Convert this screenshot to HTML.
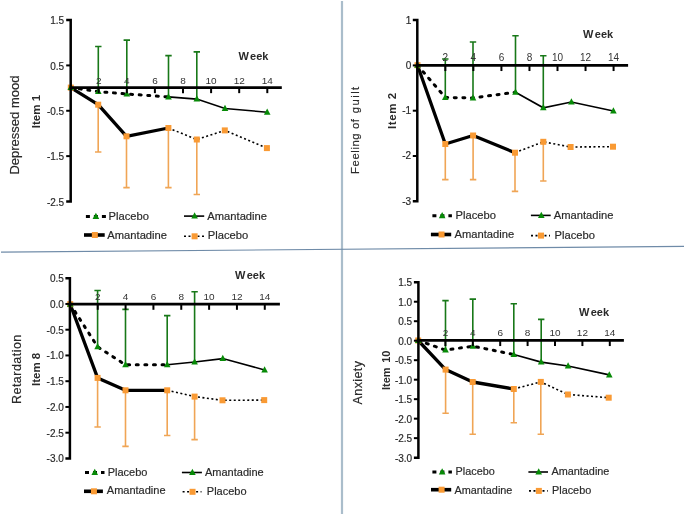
<!DOCTYPE html>
<html><head><meta charset="utf-8"><style>
html,body{margin:0;padding:0;background:#fff;}
svg{display:block;filter:blur(0.3px);}
text{font-family:"Liberation Sans", sans-serif;fill:#2a2a2a;}
.tl,.lg,.ttl{stroke:#2a2a2a;stroke-width:0.18px;}
.xl{stroke:none;fill:#333;}
.tl{font-size:10px;}
.wk{font-size:11px;font-weight:bold;}
.ttl{font-size:12.5px;}
.itm{font-size:11.5px;font-weight:bold;}
.lg{font-size:11.2px;}
</style></head><body>
<svg width="685" height="516" viewBox="0 0 685 516">
<rect width="685" height="516" fill="#fff"/>
<path d="M98.3 91.6V46.5M95.1 46.5H101.5" stroke="#187818" stroke-width="1.6" fill="none"/><path d="M126.8 94V40.1M123.6 40.1H130" stroke="#187818" stroke-width="1.6" fill="none"/><path d="M168.5 96.9V55.6M165.3 55.6H171.7" stroke="#187818" stroke-width="1.6" fill="none"/><path d="M196.8 99.1V51.9M193.6 51.9H200" stroke="#187818" stroke-width="1.6" fill="none"/><path d="M98.2 104.7V152M95 152H101.4" stroke="#f0a555" stroke-width="1.6" fill="none"/><path d="M126.5 136.3V187.6M123.3 187.6H129.7" stroke="#f0a555" stroke-width="1.6" fill="none"/><path d="M168.4 128V187.6M165.2 187.6H171.6" stroke="#f0a555" stroke-width="1.6" fill="none"/><path d="M196.8 139.5V194.5M193.6 194.5H200" stroke="#f0a555" stroke-width="1.6" fill="none"/><polyline points="70.8,87.6 98.3,91.6 126.8,94 168.5,96.9" fill="none" stroke="#000" stroke-width="3" stroke-linecap="round" stroke-dasharray="2 6.6"/><polyline points="168.5,96.9 196.8,99.1 225,108.5 267.2,112.2" fill="none" stroke="#000" stroke-width="1.6"/><polyline points="70.8,87.6 98.2,104.7 126.5,136.3 168.4,128" fill="none" stroke="#000" stroke-width="3.3" stroke-linejoin="round"/><polyline points="168.4,128 196.8,139.5 224.8,130.4 266.9,148.1" fill="none" stroke="#000" stroke-width="1.6" stroke-dasharray="2 2.5"/><rect x="67.8" y="84.6" width="6" height="6" fill="#f99a34"/><rect x="95.2" y="101.7" width="6" height="6" fill="#f99a34"/><rect x="123.5" y="133.3" width="6" height="6" fill="#f99a34"/><rect x="165.4" y="125" width="6" height="6" fill="#f99a34"/><rect x="193.8" y="136.5" width="6" height="6" fill="#f99a34"/><rect x="221.8" y="127.4" width="6" height="6" fill="#f99a34"/><rect x="263.9" y="145.1" width="6" height="6" fill="#f99a34"/><path d="M70.8 83.84L74.1 90.11L67.5 90.11Z" fill="#078a07"/><path d="M98.3 87.84L101.6 94.11L95 94.11Z" fill="#078a07"/><path d="M126.8 90.24L130.1 96.51L123.5 96.51Z" fill="#078a07"/><path d="M168.5 93.14L171.8 99.41L165.2 99.41Z" fill="#078a07"/><path d="M196.8 95.34L200.1 101.61L193.5 101.61Z" fill="#078a07"/><path d="M225 104.74L228.3 111.01L221.7 111.01Z" fill="#078a07"/><path d="M267.2 108.44L270.5 114.71L263.9 114.71Z" fill="#078a07"/><path d="M66.2 20.07H70.7V201.47H66.2" fill="none" stroke="#000" stroke-width="2.5"/><path d="M66.2 65.42H70.7" stroke="#000" stroke-width="2"/><path d="M66.2 110.77H70.7" stroke="#000" stroke-width="2"/><path d="M66.2 156.12H70.7" stroke="#000" stroke-width="2"/><text x="64.2" y="24.37" text-anchor="end" class="tl">1.5</text><text x="64.2" y="69.72" text-anchor="end" class="tl">0.5</text><text x="64.2" y="115.07" text-anchor="end" class="tl">-0.5</text><text x="64.2" y="160.43" text-anchor="end" class="tl">-1.5</text><text x="64.2" y="205.78" text-anchor="end" class="tl">-2.5</text><path d="M70.7 87.55H281.8" stroke="#000" stroke-width="2.7"/><path d="M98.7 87.55V93.15" stroke="#000" stroke-width="2"/><text transform="translate(98.7 84.05) scale(1 0.96)" text-anchor="middle" class="tl xl">2</text><path d="M126.8 87.55V93.15" stroke="#000" stroke-width="2"/><text transform="translate(126.8 84.05) scale(1 0.96)" text-anchor="middle" class="tl xl">4</text><path d="M154.9 87.55V93.15" stroke="#000" stroke-width="2"/><text transform="translate(154.9 84.05) scale(1 0.96)" text-anchor="middle" class="tl xl">6</text><path d="M183 87.55V93.15" stroke="#000" stroke-width="2"/><text transform="translate(183 84.05) scale(1 0.96)" text-anchor="middle" class="tl xl">8</text><path d="M211.1 87.55V93.15" stroke="#000" stroke-width="2"/><text transform="translate(211.1 84.05) scale(1 0.96)" text-anchor="middle" class="tl xl">10</text><path d="M239.2 87.55V93.15" stroke="#000" stroke-width="2"/><text transform="translate(239.2 84.05) scale(1 0.96)" text-anchor="middle" class="tl xl">12</text><path d="M267.3 87.55V93.15" stroke="#000" stroke-width="2"/><text transform="translate(267.3 84.05) scale(1 0.96)" text-anchor="middle" class="tl xl">14</text><text x="238.4" y="59.5" class="wk">W<tspan dx="1.5">eek</tspan></text><text transform="translate(19.3 174.6) rotate(-90)" class="ttl" style="font-size:13px">Depressed mood</text><text transform="translate(39.5 128.2) rotate(-90)" class="itm" style="">Item 1</text><path d="M84.9 216.4H105.9" stroke="#000" stroke-width="3" stroke-dasharray="4 4" stroke-dashoffset="-1"/><path d="M95.9 212.64L99.2 218.91L92.6 218.91Z" fill="#078a07"/><text x="108.5" y="219.6" class="lg" style="font-size:11.2px">Placebo</text><path d="M84 235H104.7" stroke="#000" stroke-width="3.6"/><rect x="91.85" y="232" width="6" height="6" fill="#f99a34"/><text x="107.3" y="238.5" class="lg" style="font-size:11.2px">Amantadine</text><path d="M184 216.1H204.2" stroke="#000" stroke-width="1.6"/><path d="M194.6 212.34L197.9 218.61L191.3 218.61Z" fill="#078a07"/><text x="207.3" y="219.6" class="lg" style="font-size:11.2px">Amantadine</text><path d="M184 236.3H204.2" stroke="#000" stroke-width="1.6" stroke-dasharray="2 2.5"/><rect x="191.6" y="233.3" width="6" height="6" fill="#f99a34"/><text x="207.8" y="239" class="lg" style="font-size:11.2px">Placebo</text><path d="M445.3 97.5V59M442.1 59H448.5" stroke="#187818" stroke-width="1.6" fill="none"/><path d="M473 97.9V42M469.8 42H476.2" stroke="#187818" stroke-width="1.6" fill="none"/><path d="M515.5 92.2V35.7M512.3 35.7H518.7" stroke="#187818" stroke-width="1.6" fill="none"/><path d="M543.3 107.8V55.8M540.1 55.8H546.5" stroke="#187818" stroke-width="1.6" fill="none"/><path d="M445.3 144V179.6M442.1 179.6H448.5" stroke="#f0a555" stroke-width="1.6" fill="none"/><path d="M473.1 135.5V179.6M469.9 179.6H476.3" stroke="#f0a555" stroke-width="1.6" fill="none"/><path d="M515 152.7V191.4M511.8 191.4H518.2" stroke="#f0a555" stroke-width="1.6" fill="none"/><path d="M543.3 141.8V181M540.1 181H546.5" stroke="#f0a555" stroke-width="1.6" fill="none"/><polyline points="417.5,65.2 445.3,97.5 473,97.9 515.5,92.2" fill="none" stroke="#000" stroke-width="3" stroke-linecap="round" stroke-dasharray="2 6.6"/><polyline points="515.5,92.2 543.3,107.8 571.4,102 613.4,111" fill="none" stroke="#000" stroke-width="1.6"/><polyline points="417.5,65.2 445.3,144 473.1,135.5 515,152.7" fill="none" stroke="#000" stroke-width="3.3" stroke-linejoin="round"/><polyline points="515,152.7 543.3,141.8 570.6,147 613,146.7" fill="none" stroke="#000" stroke-width="1.6" stroke-dasharray="2 2.5"/><rect x="414.5" y="62.2" width="6" height="6" fill="#f99a34"/><rect x="442.3" y="141" width="6" height="6" fill="#f99a34"/><rect x="470.1" y="132.5" width="6" height="6" fill="#f99a34"/><rect x="512" y="149.7" width="6" height="6" fill="#f99a34"/><rect x="540.3" y="138.8" width="6" height="6" fill="#f99a34"/><rect x="567.6" y="144" width="6" height="6" fill="#f99a34"/><rect x="610" y="143.7" width="6" height="6" fill="#f99a34"/><path d="M417.5 61.44L420.8 67.71L414.2 67.71Z" fill="#078a07"/><path d="M445.3 93.74L448.6 100.01L442 100.01Z" fill="#078a07"/><path d="M473 94.14L476.3 100.41L469.7 100.41Z" fill="#078a07"/><path d="M515.5 88.44L518.8 94.71L512.2 94.71Z" fill="#078a07"/><path d="M543.3 104.04L546.6 110.31L540 110.31Z" fill="#078a07"/><path d="M571.4 98.24L574.7 104.51L568.1 104.51Z" fill="#078a07"/><path d="M613.4 107.24L616.7 113.51L610.1 113.51Z" fill="#078a07"/><path d="M412.8 20.1H417.3V201.3H412.8" fill="none" stroke="#000" stroke-width="2.5"/><path d="M412.8 65.4H417.3" stroke="#000" stroke-width="2"/><path d="M412.8 110.7H417.3" stroke="#000" stroke-width="2"/><path d="M412.8 156H417.3" stroke="#000" stroke-width="2"/><text x="411.2" y="23.5" text-anchor="end" class="tl">1</text><text x="411.2" y="68.8" text-anchor="end" class="tl">0</text><text x="411.2" y="114.1" text-anchor="end" class="tl">-1</text><text x="411.2" y="159.4" text-anchor="end" class="tl">-2</text><text x="411.2" y="204.7" text-anchor="end" class="tl">-3</text><path d="M417.3 65.45H628.1" stroke="#000" stroke-width="2.7"/><path d="M445.34 65.45V71.05" stroke="#000" stroke-width="2"/><text transform="translate(445.34 61.05) scale(1 1.02)" text-anchor="middle" class="tl xl">2</text><path d="M473.38 65.45V71.05" stroke="#000" stroke-width="2"/><text transform="translate(473.38 61.05) scale(1 1.02)" text-anchor="middle" class="tl xl">4</text><path d="M501.42 65.45V71.05" stroke="#000" stroke-width="2"/><text transform="translate(501.42 61.05) scale(1 1.02)" text-anchor="middle" class="tl xl">6</text><path d="M529.46 65.45V71.05" stroke="#000" stroke-width="2"/><text transform="translate(529.46 61.05) scale(1 1.02)" text-anchor="middle" class="tl xl">8</text><path d="M557.5 65.45V71.05" stroke="#000" stroke-width="2"/><text transform="translate(557.5 61.05) scale(1 1.02)" text-anchor="middle" class="tl xl">10</text><path d="M585.54 65.45V71.05" stroke="#000" stroke-width="2"/><text transform="translate(585.54 61.05) scale(1 1.02)" text-anchor="middle" class="tl xl">12</text><path d="M613.58 65.45V71.05" stroke="#000" stroke-width="2"/><text transform="translate(613.58 61.05) scale(1 1.02)" text-anchor="middle" class="tl xl">14</text><text x="583.1" y="38.1" class="wk">W<tspan dx="1.5">eek</tspan></text><text transform="translate(358.5 174) rotate(-90)" class="ttl" style="font-size:11.3px;letter-spacing:0.6px">Feeling of <tspan dx="1.5" style="letter-spacing:1.4px">guilt</tspan></text><text transform="translate(395.6 128.9) rotate(-90)" class="itm" style="letter-spacing:0.54px">Item 2</text><path d="M431.4 215.8H451.9" stroke="#000" stroke-width="3" stroke-dasharray="4 4" stroke-dashoffset="-1"/><path d="M442.15 212.04L445.45 218.31L438.85 218.31Z" fill="#078a07"/><text x="455.6" y="218.9" class="lg" style="font-size:11.2px">Placebo</text><path d="M430.9 234.5H451.2" stroke="#000" stroke-width="3.6"/><rect x="438.55" y="231.5" width="6" height="6" fill="#f99a34"/><text x="454.5" y="238.2" class="lg" style="font-size:11.2px">Amantadine</text><path d="M530.9 215.4H550.7" stroke="#000" stroke-width="1.6"/><path d="M541.3 211.64L544.6 217.91L538 217.91Z" fill="#078a07"/><text x="553.7" y="218.9" class="lg" style="font-size:11.2px">Amantadine</text><path d="M531 235.6H550" stroke="#000" stroke-width="1.6" stroke-dasharray="2 2.5"/><rect x="538" y="232.6" width="6" height="6" fill="#f99a34"/><text x="554.5" y="238.5" class="lg" style="font-size:11.2px">Placebo</text><path d="M97.6 346.8V290.5M94.4 290.5H100.8" stroke="#187818" stroke-width="1.6" fill="none"/><path d="M125.5 364.8V309.4M122.3 309.4H128.7" stroke="#187818" stroke-width="1.6" fill="none"/><path d="M167.2 364.8V315.6M164 315.6H170.4" stroke="#187818" stroke-width="1.6" fill="none"/><path d="M194.6 362V291.7M191.4 291.7H197.8" stroke="#187818" stroke-width="1.6" fill="none"/><path d="M97.6 377.9V427M94.4 427H100.8" stroke="#f0a555" stroke-width="1.6" fill="none"/><path d="M125.5 390.3V446.4M122.3 446.4H128.7" stroke="#f0a555" stroke-width="1.6" fill="none"/><path d="M167.2 390.3V435.5M164 435.5H170.4" stroke="#f0a555" stroke-width="1.6" fill="none"/><path d="M194.6 396.6V439.6M191.4 439.6H197.8" stroke="#f0a555" stroke-width="1.6" fill="none"/><polyline points="70.2,304.2 97.6,346.8 125.5,364.8 167.2,364.8" fill="none" stroke="#000" stroke-width="3" stroke-linecap="round" stroke-dasharray="2 6.6"/><polyline points="167.2,364.8 194.6,362 222.8,358.6 264.6,369.9" fill="none" stroke="#000" stroke-width="1.6"/><polyline points="70.2,304.2 97.6,377.9 125.5,390.3 167.2,390.3" fill="none" stroke="#000" stroke-width="3.3" stroke-linejoin="round"/><polyline points="167.2,390.3 194.6,396.6 222.5,400.3 264.2,400.1" fill="none" stroke="#000" stroke-width="1.6" stroke-dasharray="2 2.5"/><rect x="67.2" y="301.2" width="6" height="6" fill="#f99a34"/><rect x="94.6" y="374.9" width="6" height="6" fill="#f99a34"/><rect x="122.5" y="387.3" width="6" height="6" fill="#f99a34"/><rect x="164.2" y="387.3" width="6" height="6" fill="#f99a34"/><rect x="191.6" y="393.6" width="6" height="6" fill="#f99a34"/><rect x="219.5" y="397.3" width="6" height="6" fill="#f99a34"/><rect x="261.2" y="397.1" width="6" height="6" fill="#f99a34"/><path d="M70.2 300.44L73.5 306.71L66.9 306.71Z" fill="#078a07"/><path d="M97.6 343.04L100.9 349.31L94.3 349.31Z" fill="#078a07"/><path d="M125.5 361.04L128.8 367.31L122.2 367.31Z" fill="#078a07"/><path d="M167.2 361.04L170.5 367.31L163.9 367.31Z" fill="#078a07"/><path d="M194.6 358.24L197.9 364.51L191.3 364.51Z" fill="#078a07"/><path d="M222.8 354.84L226.1 361.11L219.5 361.11Z" fill="#078a07"/><path d="M264.6 366.14L267.9 372.41L261.3 372.41Z" fill="#078a07"/><path d="M65.4 278.2H69.9V458.45H65.4" fill="none" stroke="#000" stroke-width="2.5"/><path d="M65.4 303.95H69.9" stroke="#000" stroke-width="2"/><path d="M65.4 329.7H69.9" stroke="#000" stroke-width="2"/><path d="M65.4 355.45H69.9" stroke="#000" stroke-width="2"/><path d="M65.4 381.2H69.9" stroke="#000" stroke-width="2"/><path d="M65.4 406.95H69.9" stroke="#000" stroke-width="2"/><path d="M65.4 432.7H69.9" stroke="#000" stroke-width="2"/><text x="63.8" y="282" text-anchor="end" class="tl">0.5</text><text x="63.8" y="307.75" text-anchor="end" class="tl">0.0</text><text x="63.8" y="333.5" text-anchor="end" class="tl">-0.5</text><text x="63.8" y="359.25" text-anchor="end" class="tl">-1.0</text><text x="63.8" y="385" text-anchor="end" class="tl">-1.5</text><text x="63.8" y="410.75" text-anchor="end" class="tl">-2.0</text><text x="63.8" y="436.5" text-anchor="end" class="tl">-2.5</text><text x="63.8" y="462.25" text-anchor="end" class="tl">-3.0</text><path d="M69.9 304.2H279.9" stroke="#000" stroke-width="2.7"/><path d="M97.74 304.2V309.8" stroke="#000" stroke-width="2"/><text transform="translate(97.74 299.6) scale(1 0.82)" text-anchor="middle" class="tl xl">2</text><path d="M125.58 304.2V309.8" stroke="#000" stroke-width="2"/><text transform="translate(125.58 299.6) scale(1 0.82)" text-anchor="middle" class="tl xl">4</text><path d="M153.42 304.2V309.8" stroke="#000" stroke-width="2"/><text transform="translate(153.42 299.6) scale(1 0.82)" text-anchor="middle" class="tl xl">6</text><path d="M181.26 304.2V309.8" stroke="#000" stroke-width="2"/><text transform="translate(181.26 299.6) scale(1 0.82)" text-anchor="middle" class="tl xl">8</text><path d="M209.1 304.2V309.8" stroke="#000" stroke-width="2"/><text transform="translate(209.1 299.6) scale(1 0.82)" text-anchor="middle" class="tl xl">10</text><path d="M236.94 304.2V309.8" stroke="#000" stroke-width="2"/><text transform="translate(236.94 299.6) scale(1 0.82)" text-anchor="middle" class="tl xl">12</text><path d="M264.78 304.2V309.8" stroke="#000" stroke-width="2"/><text transform="translate(264.78 299.6) scale(1 0.82)" text-anchor="middle" class="tl xl">14</text><text x="235" y="279.3" class="wk">W<tspan dx="1.5">eek</tspan></text><text transform="translate(21.3 404) rotate(-90)" class="ttl" style="font-size:12.5px;letter-spacing:0.47px">Retardation</text><text transform="translate(40.3 386) rotate(-90)" class="itm" style="">Item 8</text><path d="M84 472.5H104.5" stroke="#000" stroke-width="3" stroke-dasharray="4 4" stroke-dashoffset="-1"/><path d="M94.75 468.74L98.05 475.01L91.45 475.01Z" fill="#078a07"/><text x="107.7" y="476.4" class="lg" style="font-size:11.0px">Placebo</text><path d="M84 491.3H102.9" stroke="#000" stroke-width="3.6"/><rect x="90.95" y="488.3" width="6" height="6" fill="#f99a34"/><text x="106.8" y="494.4" class="lg" style="font-size:11.0px">Amantadine</text><path d="M181.9 472.5H201.9" stroke="#000" stroke-width="1.6"/><path d="M192.4 468.74L195.7 475.01L189.1 475.01Z" fill="#078a07"/><text x="205" y="476.4" class="lg" style="font-size:11.0px">Amantadine</text><path d="M182.6 491.8H201.5" stroke="#000" stroke-width="1.6" stroke-dasharray="2 2.5"/><rect x="189.55" y="488.8" width="6" height="6" fill="#f99a34"/><text x="206.8" y="495" class="lg" style="font-size:11.0px">Placebo</text><path d="M445.5 350.1V300.6M442.3 300.6H448.7" stroke="#187818" stroke-width="1.6" fill="none"/><path d="M472.8 346.2V299.1M469.6 299.1H476" stroke="#187818" stroke-width="1.6" fill="none"/><path d="M513.8 354.5V303.8M510.6 303.8H517" stroke="#187818" stroke-width="1.6" fill="none"/><path d="M541.2 362.1V319.4M538 319.4H544.4" stroke="#187818" stroke-width="1.6" fill="none"/><path d="M445.6 369.6V413.3M442.4 413.3H448.8" stroke="#f0a555" stroke-width="1.6" fill="none"/><path d="M472.7 382V434.2M469.5 434.2H475.9" stroke="#f0a555" stroke-width="1.6" fill="none"/><path d="M513.8 389V422.8M510.6 422.8H517" stroke="#f0a555" stroke-width="1.6" fill="none"/><path d="M540.8 381.9V434.2M537.6 434.2H544" stroke="#f0a555" stroke-width="1.6" fill="none"/><polyline points="418.2,340.5 445.5,350.1 472.8,346.2 513.8,354.5" fill="none" stroke="#000" stroke-width="3" stroke-linecap="round" stroke-dasharray="2 6.6"/><polyline points="513.8,354.5 541.2,362.1 568.1,366 609.3,374.9" fill="none" stroke="#000" stroke-width="1.6"/><polyline points="418.2,340.5 445.6,369.6 472.7,382 513.8,389" fill="none" stroke="#000" stroke-width="3.3" stroke-linejoin="round"/><polyline points="513.8,389 540.8,381.9 567.9,394.5 608.7,397.7" fill="none" stroke="#000" stroke-width="1.6" stroke-dasharray="2 2.5"/><rect x="415.2" y="337.5" width="6" height="6" fill="#f99a34"/><rect x="442.6" y="366.6" width="6" height="6" fill="#f99a34"/><rect x="469.7" y="379" width="6" height="6" fill="#f99a34"/><rect x="510.8" y="386" width="6" height="6" fill="#f99a34"/><rect x="537.8" y="378.9" width="6" height="6" fill="#f99a34"/><rect x="564.9" y="391.5" width="6" height="6" fill="#f99a34"/><rect x="605.7" y="394.7" width="6" height="6" fill="#f99a34"/><path d="M418.2 336.74L421.5 343.01L414.9 343.01Z" fill="#078a07"/><path d="M445.5 346.34L448.8 352.61L442.2 352.61Z" fill="#078a07"/><path d="M472.8 342.44L476.1 348.71L469.5 348.71Z" fill="#078a07"/><path d="M513.8 350.74L517.1 357.01L510.5 357.01Z" fill="#078a07"/><path d="M541.2 358.34L544.5 364.61L537.9 364.61Z" fill="#078a07"/><path d="M568.1 362.24L571.4 368.51L564.8 368.51Z" fill="#078a07"/><path d="M609.3 371.14L612.6 377.41L606 377.41Z" fill="#078a07"/><path d="M413.9 282.23H418.4V457.64H413.9" fill="none" stroke="#000" stroke-width="2.5"/><path d="M413.9 301.72H418.4" stroke="#000" stroke-width="2"/><path d="M413.9 321.21H418.4" stroke="#000" stroke-width="2"/><path d="M413.9 340.7H418.4" stroke="#000" stroke-width="2"/><path d="M413.9 360.19H418.4" stroke="#000" stroke-width="2"/><path d="M413.9 379.68H418.4" stroke="#000" stroke-width="2"/><path d="M413.9 399.17H418.4" stroke="#000" stroke-width="2"/><path d="M413.9 418.66H418.4" stroke="#000" stroke-width="2"/><path d="M413.9 438.15H418.4" stroke="#000" stroke-width="2"/><text x="412.2" y="286.23" text-anchor="end" class="tl">1.5</text><text x="412.2" y="305.72" text-anchor="end" class="tl">1.0</text><text x="412.2" y="325.21" text-anchor="end" class="tl">0.5</text><text x="412.2" y="344.7" text-anchor="end" class="tl">0.0</text><text x="412.2" y="364.19" text-anchor="end" class="tl">-0.5</text><text x="412.2" y="383.68" text-anchor="end" class="tl">-1.0</text><text x="412.2" y="403.17" text-anchor="end" class="tl">-1.5</text><text x="412.2" y="422.66" text-anchor="end" class="tl">-2.0</text><text x="412.2" y="442.15" text-anchor="end" class="tl">-2.5</text><text x="412.2" y="461.64" text-anchor="end" class="tl">-3.0</text><path d="M418.4 340.45H623.9" stroke="#000" stroke-width="2.7"/><path d="M445.4 340.45V346.05" stroke="#000" stroke-width="2"/><text transform="translate(445.4 335.75) scale(1 0.82)" text-anchor="middle" class="tl xl">2</text><path d="M472.8 340.45V346.05" stroke="#000" stroke-width="2"/><text transform="translate(472.8 335.75) scale(1 0.82)" text-anchor="middle" class="tl xl">4</text><path d="M500.2 340.45V346.05" stroke="#000" stroke-width="2"/><text transform="translate(500.2 335.75) scale(1 0.82)" text-anchor="middle" class="tl xl">6</text><path d="M527.6 340.45V346.05" stroke="#000" stroke-width="2"/><text transform="translate(527.6 335.75) scale(1 0.82)" text-anchor="middle" class="tl xl">8</text><path d="M555 340.45V346.05" stroke="#000" stroke-width="2"/><text transform="translate(555 335.75) scale(1 0.82)" text-anchor="middle" class="tl xl">10</text><path d="M582.4 340.45V346.05" stroke="#000" stroke-width="2"/><text transform="translate(582.4 335.75) scale(1 0.82)" text-anchor="middle" class="tl xl">12</text><path d="M609.8 340.45V346.05" stroke="#000" stroke-width="2"/><text transform="translate(609.8 335.75) scale(1 0.82)" text-anchor="middle" class="tl xl">14</text><text x="579" y="315.6" class="wk">W<tspan dx="1.5">eek</tspan></text><text transform="translate(361.9 404.4) rotate(-90)" class="ttl" style="font-size:12.5px;letter-spacing:0.4px">Anxiety</text><text transform="translate(389.7 390) rotate(-90)" class="itm" style="font-size:11px;word-spacing:1.5px">Item 10</text><path d="M431.4 472H451.9" stroke="#000" stroke-width="3" stroke-dasharray="4 4" stroke-dashoffset="-1"/><path d="M442.15 468.24L445.45 474.51L438.85 474.51Z" fill="#078a07"/><text x="455.6" y="474.6" class="lg" style="font-size:10.85px">Placebo</text><path d="M431 489.7H451.2" stroke="#000" stroke-width="3.6"/><rect x="438.6" y="486.7" width="6" height="6" fill="#f99a34"/><text x="454.5" y="493.5" class="lg" style="font-size:10.85px">Amantadine</text><path d="M528.4 472H548" stroke="#000" stroke-width="1.6"/><path d="M538.7 468.24L542 474.51L535.4 474.51Z" fill="#078a07"/><text x="551.5" y="474.6" class="lg" style="font-size:10.85px">Amantadine</text><path d="M529 490.9H547.7" stroke="#000" stroke-width="1.6" stroke-dasharray="2 2.5"/><rect x="535.85" y="487.9" width="6" height="6" fill="#f99a34"/><text x="552" y="493.9" class="lg" style="font-size:10.85px">Placebo</text>
<path d="M342 1V514" stroke="#aabdcb" stroke-width="2.2" fill="none"/><path d="M1 252.2L684 246.3" stroke="#6f8ba8" stroke-width="1.2" fill="none"/>
</svg>
</body></html>
